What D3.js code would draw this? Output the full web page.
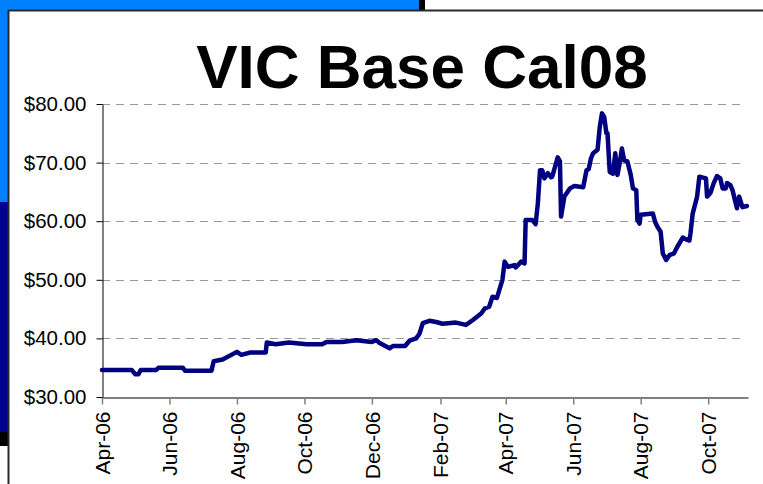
<!DOCTYPE html>
<html>
<head>
<meta charset="utf-8">
<script src="https://cdn.jsdelivr.net/npm/d3@7"></script>
<style>
  body { margin: 0; background: #fff; }
  svg { display: block; font-family: "Liberation Sans", Arial, sans-serif; }
</style>
</head>
<body>
<div id="chart"></div>
<script>
"use strict";

const WIDTH = 763;
const HEIGHT = 484;
const PLOT_LEFT = 102;
const PLOT_RIGHT = 748;
const PLOT_TOP = 104;
const PLOT_BOTTOM = 397;
const LINE_COLOR = "#000080";

const TITLE = "VIC Base Cal08";

// price, one point per visible turn of the line
const dates = [
    "2006-04-01", "2006-04-28", "2006-05-01", "2006-05-04", "2006-05-06", "2006-05-20",
    "2006-05-22", "2006-06-13", "2006-06-15", "2006-07-09", "2006-07-11", "2006-07-19",
    "2006-08-01", "2006-08-05", "2006-08-13", "2006-08-27", "2006-08-28", "2006-09-05",
    "2006-09-17", "2006-10-03", "2006-10-17", "2006-10-21", "2006-11-04", "2006-11-17",
    "2006-12-01", "2006-12-05", "2006-12-08", "2006-12-17", "2006-12-20", "2006-12-31",
    "2007-01-04", "2007-01-10", "2007-01-13", "2007-01-16", "2007-01-22", "2007-01-28",
    "2007-02-03", "2007-02-15", "2007-02-24", "2007-03-02", "2007-03-10", "2007-03-13",
    "2007-03-17", "2007-03-20", "2007-03-24", "2007-03-29", "2007-03-31", "2007-04-03",
    "2007-04-09", "2007-04-10", "2007-04-15", "2007-04-18", "2007-04-19", "2007-04-25",
    "2007-04-28", "2007-04-30", "2007-05-02", "2007-05-04", "2007-05-06", "2007-05-09",
    "2007-05-12", "2007-05-13", "2007-05-18", "2007-05-20", "2007-05-21", "2007-05-24",
    "2007-05-29", "2007-06-02", "2007-06-10", "2007-06-13", "2007-06-15", "2007-06-17",
    "2007-06-19", "2007-06-23", "2007-06-25", "2007-06-27", "2007-06-29", "2007-07-01",
    "2007-07-02", "2007-07-04", "2007-07-07", "2007-07-09", "2007-07-11", "2007-07-13",
    "2007-07-15", "2007-07-17", "2007-07-20", "2007-07-23", "2007-07-25", "2007-07-28",
    "2007-07-29", "2007-07-31", "2007-08-01", "2007-08-12", "2007-08-14", "2007-08-16",
    "2007-08-19", "2007-08-21", "2007-08-24", "2007-08-27", "2007-08-31", "2007-09-03",
    "2007-09-08", "2007-09-11", "2007-09-14", "2007-09-15", "2007-09-17", "2007-09-21",
    "2007-09-23", "2007-09-29", "2007-09-30", "2007-10-03", "2007-10-06", "2007-10-09",
    "2007-10-12", "2007-10-14", "2007-10-17", "2007-10-18", "2007-10-21", "2007-10-23",
    "2007-10-27", "2007-10-29", "2007-11-01", "2007-11-05"
];
const prices = [
    34.6, 34.6, 33.9, 33.9, 34.6, 34.6,
    35.0, 35.0, 34.5, 34.5, 36.1, 36.4,
    37.7, 37.2, 37.6, 37.6, 39.3, 39.0,
    39.3, 39.0, 39.0, 39.4, 39.4, 39.7,
    39.4, 39.7, 39.2, 38.3, 38.7, 38.7,
    39.6, 40.0, 40.8, 42.6, 43.0, 42.8,
    42.5, 42.7, 42.3, 43.1, 44.3, 45.1,
    45.4, 47.1, 46.9, 50.0, 53.1, 52.2,
    52.5, 52.1, 53.1, 52.8, 60.2, 60.2,
    59.5, 63.0, 68.7, 68.7, 67.3, 68.2,
    67.5, 67.6, 70.9, 70.2, 60.8, 64.2,
    65.6, 66.0, 65.8, 68.7, 68.9, 70.7,
    71.6, 72.2, 76.1, 78.4, 77.8, 75.0,
    75.0, 68.4, 68.1, 71.6, 67.9, 69.9,
    72.4, 70.4, 70.2, 67.9, 65.6, 65.3,
    60.2, 59.6, 61.1, 61.3, 59.9, 59.1,
    58.2, 54.5, 53.4, 54.2, 54.5, 55.6,
    57.2, 56.9, 56.7, 57.9, 61.3, 64.2,
    67.6, 67.3, 64.2, 64.8, 66.5, 67.7,
    67.3, 65.6, 65.6, 66.5, 66.2, 65.3,
    62.2, 64.2, 62.4, 62.6
];

const xDomain = ["2006-04-01", "2007-11-06"];
const xTicks = ["2006-04-01", "2006-06-01", "2006-08-01", "2006-10-01", "2006-12-01",
    "2007-02-01", "2007-04-01", "2007-06-01", "2007-08-01", "2007-10-01"];
const yTicks = [30, 40, 50, 60, 70, 80];

const parse = d3.timeParse("%Y-%m-%d");
const points = dates.map((d, i) => ({ date: parse(d), price: prices[i] }));

const svg = d3.select("#chart").append("svg")
    .attr("width", WIDTH)
    .attr("height", HEIGHT);

// slide frame behind the chart
svg.append("rect").attr("x", 0).attr("y", 0).attr("width", 419).attr("height", 10).attr("fill", "#0080ff");
svg.append("rect").attr("x", 419).attr("y", 0).attr("width", 6).attr("height", 10).attr("fill", "#000");
svg.append("rect").attr("x", 0).attr("y", 0).attr("width", 8).attr("height", 202).attr("fill", "#0080ff");
svg.append("rect").attr("x", 0).attr("y", 202).attr("width", 8).attr("height", 230).attr("fill", "#000090");
svg.append("rect").attr("x", 0).attr("y", 432).attr("width", 8).attr("height", 14).attr("fill", "#000");
svg.append("line").attr("x1", 8).attr("x2", WIDTH).attr("y1", 10.5).attr("y2", 10.5)
    .attr("stroke", "#2a2a2a").attr("stroke-width", 2);
svg.append("line").attr("x1", 8.5).attr("x2", 8.5).attr("y1", 10).attr("y2", HEIGHT)
    .attr("stroke", "#2a2a2a").attr("stroke-width", 2);

svg.append("text")
    .attr("x", 422)
    .attr("y", 88)
    .attr("text-anchor", "middle")
    .attr("font-size", 62)
    .attr("font-weight", "bold")
    .attr("fill", "#000")
    .text(TITLE);

const x = d3.scaleTime()
    .domain(xDomain.map(parse))
    .range([PLOT_LEFT, PLOT_RIGHT]);

const y = d3.scaleLinear()
    .domain([30, 80])
    .range([PLOT_BOTTOM, PLOT_TOP]);

// dashed gridlines
svg.append("g")
    .selectAll("line")
    .data(yTicks.filter(v => v > 30))
    .enter()
    .append("line")
    .attr("x1", PLOT_LEFT)
    .attr("x2", PLOT_RIGHT - 6)
    .attr("y1", d => Math.round(y(d)) + 0.5)
    .attr("y2", d => Math.round(y(d)) + 0.5)
    .attr("stroke", "#999")
    .attr("stroke-dasharray", "8,6");

const xAxis = svg.append("g")
    .attr("transform", "translate(0," + (PLOT_BOTTOM + 0.5) + ")")
    .call(d3.axisBottom(x)
        .tickValues(xTicks.map(parse))
        .tickFormat(d3.timeFormat("%b-%y"))
        .tickSize(7)
        .tickSizeOuter(0));
xAxis.select(".domain").attr("stroke", "#000");
xAxis.selectAll(".tick line").attr("stroke", "#808080").attr("stroke-width", 1.5);
xAxis.selectAll(".tick text")
    .attr("font-size", 21)
    .attr("font-family", "Liberation Sans, Arial, sans-serif")
    .attr("fill", "#000")
    .attr("text-anchor", "end")
    .attr("transform", "rotate(-90)")
    .attr("x", -14)
    .attr("y", 0)
    .attr("dy", "0.34em");

const yAxis = svg.append("g")
    .attr("transform", "translate(" + (PLOT_LEFT + 0.5) + ",0)")
    .call(d3.axisLeft(y)
        .tickValues(yTicks)
        .tickFormat(d => "$" + d.toFixed(2))
        .tickSize(6)
        .tickPadding(10)
        .tickSizeOuter(0));
yAxis.select(".domain").attr("stroke", "#000");
yAxis.selectAll(".tick line").attr("stroke", "#000");
yAxis.selectAll(".tick text")
    .attr("font-size", 20.5)
    .attr("font-family", "Liberation Sans, Arial, sans-serif")
    .attr("fill", "#000");

const line = d3.line()
    .x(d => x(d.date))
    .y(d => y(d.price));

svg.append("path")
    .datum(points)
    .attr("d", line)
    .attr("fill", "none")
    .attr("stroke", LINE_COLOR)
    .attr("stroke-width", 4.5)
    .attr("stroke-linejoin", "round")
    .attr("stroke-linecap", "round");
</script>
</body>
</html>
